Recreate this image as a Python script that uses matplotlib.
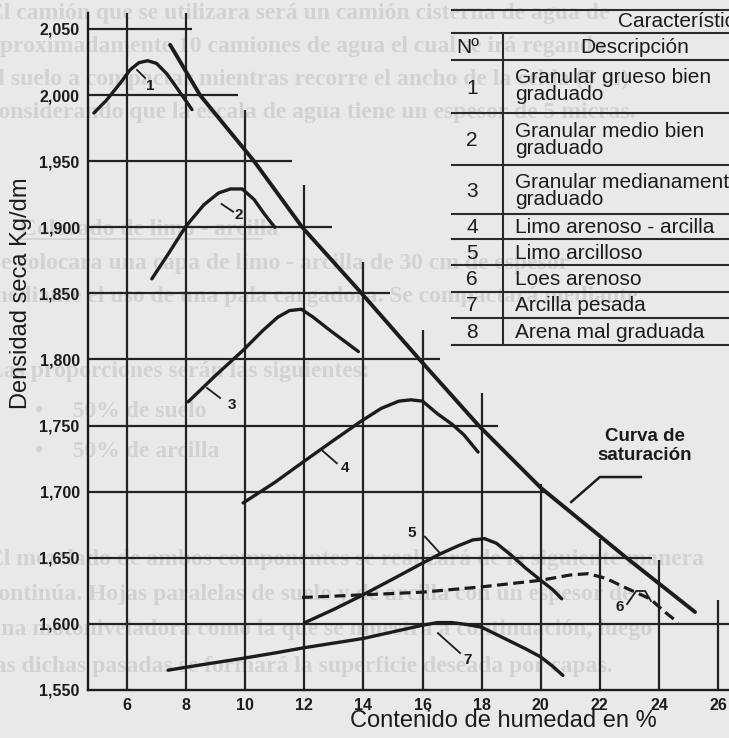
import matplotlib
matplotlib.use("Agg")
import matplotlib.pyplot as plt
from matplotlib.lines import Line2D

W, H = 729, 738

# moisture content (%) vs dry density (x1000)
sat_x = [7.46, 8.47, 10.3, 11.93, 13.9, 15.9, 17.9, 20.0, 22.9, 25.22]
sat_y = [2038, 2000, 1950, 1900, 1851, 1800, 1750, 1703, 1650, 1609]

c1_x = [4.88, 5.3, 5.77, 6.1, 6.4, 6.7, 7.0, 7.35, 7.7, 7.95, 8.2]
c1_y = [1986.5, 1996, 2009, 2019, 2024.5, 2026, 2024, 2016, 2005, 1997, 1989]

c2_x = [6.84, 7.4, 8.0, 8.6, 9.1, 9.5, 9.9, 10.3, 10.65, 11.0]
c2_y = [1861, 1880, 1901, 1917, 1926, 1929, 1929, 1921, 1910, 1900]

c3_x = [8.07, 9.0, 9.93, 10.6, 11.1, 11.5, 11.9, 12.3, 12.87, 13.35, 13.83]
c3_y = [1768, 1788, 1807, 1822, 1832, 1837, 1838, 1832, 1822, 1814, 1806]

c4_x = [9.93, 11.0, 11.96, 13.0, 13.9, 14.6, 15.2, 15.6, 16.0, 16.5, 17.0, 17.4, 17.88]
c4_y = [1691.5, 1707, 1722.5, 1739, 1753, 1763, 1768.5, 1769.5, 1768.5, 1759, 1751, 1743, 1730]

c5_x = [12.02, 13.0, 13.9, 15.0, 16.0, 16.6, 17.2, 17.7, 18.1, 18.5, 19.0, 19.5, 20.0, 20.4, 20.71]
c5_y = [1601, 1611, 1621, 1634, 1646, 1653, 1659, 1663.5, 1664.5, 1661, 1652, 1642, 1633, 1626, 1619]

c6_x = [11.92, 13, 14, 15, 16, 17, 18, 19, 20, 21, 21.6, 22.2, 22.9, 23.7, 24.2, 24.65]
c6_y = [1620, 1621, 1622, 1623, 1624, 1626, 1628, 1630.5, 1633, 1637, 1638, 1634.5, 1627, 1619, 1609, 1601]

c7_x = [7.39, 8.5, 9.93, 11, 12, 13, 14, 15, 16, 16.5, 17.0, 17.5, 18.0, 18.5, 19.0, 19.5, 20.0, 20.4, 20.75]
c7_y = [1565, 1569, 1574, 1578, 1582, 1585.5, 1589, 1594, 1599, 1601, 1601, 1599.5, 1597.5, 1592, 1586.5, 1581, 1575, 1568, 1561]

curve_labels = ['1', '2', '3', '4', '5', '6', '7']
label_x = [6.80, 9.77, 9.55, 13.38, 15.64, 22.68, 17.54]
label_y = [2006.7, 1909, 1765.6, 1717.7, 1668.8, 1612.8, 1572.7]
leader_x = [[6.34, 6.61], [9.2, 9.59], [8.71, 9.15], [12.59, 13.1],
            [16.08, 16.59], [22.92, 23.23, 23.53, 23.73], [16.52, 17.27]]
leader_y = [[2019, 2013], [1917.6, 1911.8], [1778.4, 1770.9], [1731.5, 1721.5],
            [1666, 1653.5], [1615, 1624.9, 1624.9, 1617.3], [1593, 1578]]
sat_leader_x = [23.39, 22.0, 21.03]
sat_leader_y = [1711.1, 1711.1, 1692.2]

# stepped grid
grid_y = [2050, 2000, 1950, 1900, 1850, 1800, 1750, 1700, 1650, 1600]
grid_y_end = [8.2, 9.76, 11.58, 12.94, 14.9, 16.6, 18.56, 20.2, 23.77, 26.4]
grid_x = [6, 8, 10, 12, 14, 16, 18, 20, 22, 24, 26]
grid_x_top = [2062, 2062, 1989, 1932, 1874, 1822, 1775, 1706, 1664, 1648, 1618]

y_ticks = [1550, 1600, 1650, 1700, 1750, 1800, 1850, 1900, 1950, 2000, 2050]
y_ticklabels = ['1,550', '1,600', '1,650', '1,700', '1,750', '1,800',
                '1,850', '1,900', '1,950', '2,000', '2,050']
x_ticks = [6, 8, 10, 12, 14, 16, 18, 20, 22, 24, 26]

table_no = ['1', '2', '3', '4', '5', '6', '7', '8']
table_desc = [['Granular grueso bien', 'graduado'],
              ['Granular medio bien', 'graduado'],
              ['Granular medianamente bien', 'graduado'],
              ['Limo arenoso - arcilla'],
              ['Limo arcilloso'],
              ['Loes arenoso'],
              ['Arcilla pesada'],
              ['Arena mal graduada']]

# faint text of the scanned page behind the figure
page_lines = [
    (-12, 19, 'El camión que se utilizara será un camión cisterna de agua de'),
    (-12, 52, 'aproximadamente 10 camiones de agua el cual se irá regando'),
    (-12, 85, 'el suelo a compactar mientras recorre el ancho de la celda (5 m)'),
    (-12, 118, 'considerando que la escala de agua tiene un espesor de 5 micras.'),
    (20, 235, 'Colocado de limo - arcilla'),
    (-12, 269, 'Se colocara una capa de limo - arcilla de 30 cm de espesor'),
    (-12, 302, 'mediante el uso de una pala cargadora. Se compactará mediante'),
    (-12, 377, 'Las proporciones serán las siguientes:'),
    (35, 417, '•     50% de suelo'),
    (35, 457, '•     50% de arcilla'),
    (-12, 565, 'El mezclado de ambos componentes se realizará de la siguiente manera'),
    (-12, 600, 'continúa. Hojas paralelas de suelo y de arcilla con un espesor de'),
    (-12, 635, 'una motoniveladora como la que se muestra a continuación, luego'),
    (-12, 672, 'las dichas pasadas se formará la superficie deseada por capas.'),
]

INK = '#1c1c1c'
PAGE = '#d2d2d2'
SANS = ['Liberation Sans', 'DejaVu Sans']


def fx(px):
    return px / W


def fy(py):
    return 1 - py / H


fig = plt.figure(figsize=(W / 100, H / 100), dpi=100, facecolor='#e9e9e9')

for px, py, txt in page_lines:
    fig.text(fx(px), fy(py), txt, fontsize=17, fontweight='bold',
             family=['Liberation Serif', 'DejaVu Serif'], color=PAGE,
             va='baseline', ha='left', zorder=-2)
fig.add_artist(Line2D([fx(20), fx(262)], [fy(239), fy(239)], color=PAGE,
                      lw=1.2, zorder=-2))

ax = fig.add_axes([fx(88), fy(690), (W - 88) / W, (690 - 13) / H])
ax.patch.set_visible(False)
ax.set_xlim(4.68, 26.37)
ax.set_ylim(1550, 2062.1)
for s in ['top', 'right']:
    ax.spines[s].set_visible(False)
for s in ['left', 'bottom']:
    ax.spines[s].set_linewidth(1.7)
    ax.spines[s].set_color(INK)

ax.hlines(grid_y, 4.68, grid_y_end, color='#232323', lw=1.6, zorder=2)
ax.vlines(grid_x, 1550, grid_x_top, color='#232323', lw=1.6, zorder=2)

curve_kw = dict(color=INK, lw=2.4, solid_capstyle='round', solid_joinstyle='round', zorder=3)
ax.plot(sat_x, sat_y, **dict(curve_kw, lw=2.8))
for cx, cy in [(c1_x, c1_y), (c2_x, c2_y), (c3_x, c3_y), (c4_x, c4_y),
               (c5_x, c5_y), (c7_x, c7_y)]:
    ax.plot(cx, cy, **curve_kw)
ax.plot(c6_x, c6_y, color=INK, lw=2.3, dashes=(3.4, 1.7), zorder=3)

for lx, ly in zip(leader_x, leader_y):
    ax.plot(lx, ly, color=INK, lw=1.3, zorder=3)
for t, x, y in zip(curve_labels, label_x, label_y):
    ax.text(x, y, t, fontsize=11, fontweight='bold', family=SANS, color=INK,
            ha='center', va='center', zorder=4)

ax.plot(sat_leader_x, sat_leader_y, color=INK, lw=1.8, zorder=3)
ax.text(23.53, 1734.5, 'Curva de\nsaturación', fontsize=13.5, fontweight='bold',
        family=SANS, color=INK, ha='center', va='center', linespacing=1.15, zorder=4)

ax.set_yticks(y_ticks)
ax.set_yticklabels(y_ticklabels)
ax.set_xticks(x_ticks)
ax.set_xticklabels([str(v) for v in x_ticks])
ax.tick_params(length=0, labelsize=11.5, labelcolor=INK)
ax.tick_params(axis='y', pad=6)
ax.tick_params(axis='x', pad=6)
for lab in ax.get_xticklabels() + ax.get_yticklabels():
    lab.set_fontweight('bold')
    lab.set_family(SANS)

ax.set_xlabel('Contenido de humedad en %', fontsize=17, family=SANS, color=INK)
ax.xaxis.set_label_coords((503 - 88) / 641, (690 - 721) / 677)
ax.xaxis.label.set_va('center')
ax.set_ylabel('Densidad seca Kg/dm', fontsize=17, family=SANS, color=INK)
ax.yaxis.set_label_coords((21 - 88) / 641, (690 - 293) / 677)
ax.yaxis.label.set_va('center')

# soil table (top right)
row_lines = [10, 33, 60, 113, 165, 214, 239, 265, 292, 318, 345]
tkw = dict(color='#2a2a2a', lw=1.5, zorder=5)
for py in row_lines:
    fig.add_artist(Line2D([fx(452), fx(735)], [fy(py), fy(py)], **tkw))
fig.add_artist(Line2D([fx(503), fx(503)], [fy(33), fy(345)], **tkw))

txt_kw = dict(fontsize=15, family=SANS, color=INK, va='baseline', zorder=6)
fig.text(fx(618), fy(27), 'Características', ha='left', **txt_kw)
fig.text(fx(468), fy(53), 'Nº', ha='center', **txt_kw)
fig.text(fx(635), fy(53), 'Descripción', ha='center', **txt_kw)

no_base = [94, 146, 197, 233, 259, 285, 311, 338]
desc_base = [[83, 100], [137, 154], [188, 205], [233], [259], [285], [311], [338]]
for n, nb, lines, bases in zip(table_no, no_base, table_desc, desc_base):
    fig.text(fx(472), fy(nb), n, ha='center', **txt_kw)
    for line, b in zip(lines, bases):
        fig.text(fx(515), fy(b), line, ha='left', **txt_kw)

fig.savefig('out.png', dpi=100, facecolor=fig.get_facecolor())
